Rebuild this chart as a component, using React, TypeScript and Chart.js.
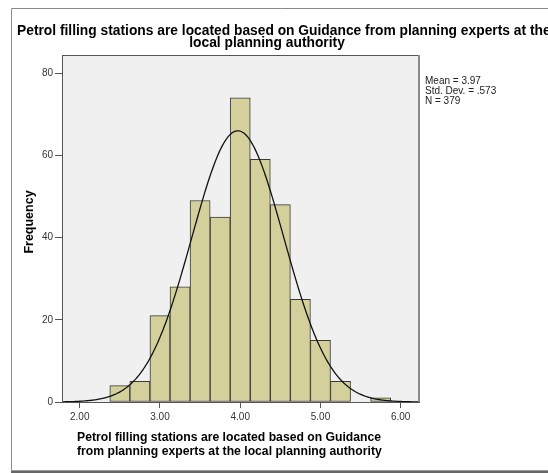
import React, { useEffect, useRef } from "react";
import { Chart, registerables } from "chart.js";

Chart.register(...registerables);

const binCenters = [2.5, 2.75, 3.0, 3.25, 3.5, 3.75, 4.0, 4.25, 4.5, 4.75, 5.0, 5.25, 5.5, 5.75];
const frequencies = [4, 5, 21, 28, 49, 45, 74, 59, 48, 25, 15, 5, 0, 1];
const xTickValues = [2, 3, 4, 5, 6];
const yTickValues = [0, 20, 40, 60, 80];
const meanValue = 3.97;
const stdDevValue = 0.573;
const countN = 379;
const binWidth = 0.25;
const xMin = 1.779;
const xMax = 6.228;
const yMax = 84.4;

const chartTitleLines = [
  "Petrol filling stations are located based on Guidance from planning experts at the",
  "local planning authority",
];
const xTitleLines = [
  "Petrol filling stations are located based on Guidance",
  "from planning experts at the local planning authority",
];
const yTitle = "Frequency";
const statsLines = ["Mean = 3.97", "Std. Dev. = .573", "N = 379"];

const FONT = "'Liberation Sans', Arial, Helvetica, sans-serif";

function normalCurve() {
  const pts: { x: number; y: number }[] = [];
  const steps = 300;
  for (let i = 0; i <= steps; i++) {
    const x = xMin + ((xMax - xMin) * i) / steps;
    const z = (x - meanValue) / stdDevValue;
    const y = (countN * binWidth) / (stdDevValue * Math.sqrt(2 * Math.PI)) * Math.exp(-0.5 * z * z);
    pts.push({ x, y });
  }
  return pts;
}

const decorPlugin = {
  id: "decor",
  beforeDraw(chart: any) {
    const { ctx, chartArea } = chart;
    const W = chart.width;
    const H = chart.height;
    ctx.save();
    ctx.fillStyle = "#ffffff";
    ctx.fillRect(0, 0, W, H);
    ctx.strokeStyle = "#8a8a8a";
    ctx.lineWidth = 1;
    ctx.beginPath();
    ctx.moveTo(W + 2, 8.5);
    ctx.lineTo(11.5, 8.5);
    ctx.lineTo(11.5, 470.5);
    ctx.stroke();
    ctx.fillStyle = "#666666";
    ctx.fillRect(11, 470, W, 3);
    ctx.fillStyle = "#9a9a9a";
    ctx.fillRect(11, 470, W, 1);
    ctx.fillStyle = "#f0f0f0";
    ctx.fillRect(chartArea.left, chartArea.top, chartArea.right - chartArea.left, chartArea.bottom - chartArea.top);
    ctx.restore();
  },
  afterDraw(chart: any) {
    const { ctx, chartArea } = chart;
    ctx.save();
    ctx.strokeStyle = "#555555";
    ctx.lineWidth = 1;
    ctx.strokeRect(chartArea.left + 0.5, chartArea.top + 0.5, chartArea.right - chartArea.left - 1, chartArea.bottom - chartArea.top);
    ctx.strokeStyle = "#8a8a8a";
    ctx.lineWidth = 2;
    ctx.beginPath();
    ctx.moveTo(chartArea.right, chartArea.top);
    ctx.lineTo(chartArea.right, chartArea.bottom);
    ctx.stroke();

    ctx.fillStyle = "#000000";
    ctx.font = `bold 13.8px ${FONT}`;
    ctx.textBaseline = "alphabetic";
    ctx.textAlign = "left";
    ctx.fillText(chartTitleLines[0], 17, 35);
    ctx.textAlign = "center";
    ctx.fillText(chartTitleLines[1], 267, 47);

    ctx.font = `bold 12.2px ${FONT}`;
    ctx.textAlign = "left";
    ctx.fillText(xTitleLines[0], 77, 441);
    ctx.fillText(xTitleLines[1], 77, 455);

    ctx.save();
    ctx.translate(30, 222);
    ctx.rotate(-Math.PI / 2);
    ctx.textAlign = "center";
    ctx.textBaseline = "middle";
    ctx.font = `bold 12.5px ${FONT}`;
    ctx.fillText(yTitle, 0, 0);
    ctx.restore();

    ctx.font = `10px ${FONT}`;
    ctx.fillStyle = "#222222";
    ctx.textAlign = "left";
    ctx.textBaseline = "alphabetic";
    statsLines.forEach((s, i) => ctx.fillText(s, 425, 83.5 + i * 10.3));
    ctx.restore();
  },
};

export default function App() {
  const ref = useRef<HTMLCanvasElement | null>(null);
  useEffect(() => {
    document.body.style.margin = "0";
    document.body.style.overflow = "hidden";
    const canvas = ref.current;
    if (!canvas) return;
    const chart = new Chart(canvas, {
      type: "bar",
      data: {
        datasets: [
          {
            type: "line",
            data: normalCurve(),
            borderColor: "#111111",
            borderWidth: 1.3,
            pointRadius: 0,
            fill: false,
            tension: 0,
            order: 0,
          } as any,
          {
            type: "bar",
            data: binCenters.map((x, i) => ({ x, y: frequencies[i] })),
            backgroundColor: "#d4d09c",
            borderColor: "#3a3a3a",
            borderWidth: 1,
            borderSkipped: false,
            barPercentage: 1,
            categoryPercentage: 1,
            order: 1,
          } as any,
        ],
      },
      plugins: [decorPlugin],
      options: {
        responsive: false,
        animation: false,
        devicePixelRatio: 1,
        layout: { padding: { left: 0, top: 55, right: 129, bottom: 41 } },
        plugins: { legend: { display: false }, tooltip: { enabled: false }, title: { display: false } },
        scales: {
          x: {
            type: "linear",
            min: xMin,
            max: xMax,
            offset: false,
            afterBuildTicks: (scale: any) => {
              scale.ticks = xTickValues.map((v) => ({ value: v }));
            },
            afterFit: (scale: any) => {
              scale.height = 30;
            },
            grid: { display: true, offset: false, drawOnChartArea: false, drawTicks: true, tickLength: 6, color: "#555555" },
            border: { display: true, color: "#555555" },
            ticks: {
              autoSkip: false,
              maxRotation: 0,
              padding: 3,
              color: "#333333",
              font: { family: FONT, size: 10 },
              callback: (v: any) => Number(v).toFixed(2),
            },
          },
          y: {
            type: "linear",
            min: 0,
            max: yMax,
            afterBuildTicks: (scale: any) => {
              scale.ticks = yTickValues.map((v) => ({ value: v }));
            },
            afterFit: (scale: any) => {
              scale.width = 62;
            },
            grid: { display: true, offset: false, drawOnChartArea: false, drawTicks: true, tickLength: 7, color: "#555555" },
            border: { display: true, color: "#555555" },
            ticks: {
              padding: 2,
              color: "#333333",
              font: { family: FONT, size: 10 },
              callback: (v: any) => String(v),
            },
          },
        },
      } as any,
    });
    return () => chart.destroy();
  }, []);
  return <canvas ref={ref} width={548} height={473} style={{ display: "block", width: 548, height: 473 }} />;
}
